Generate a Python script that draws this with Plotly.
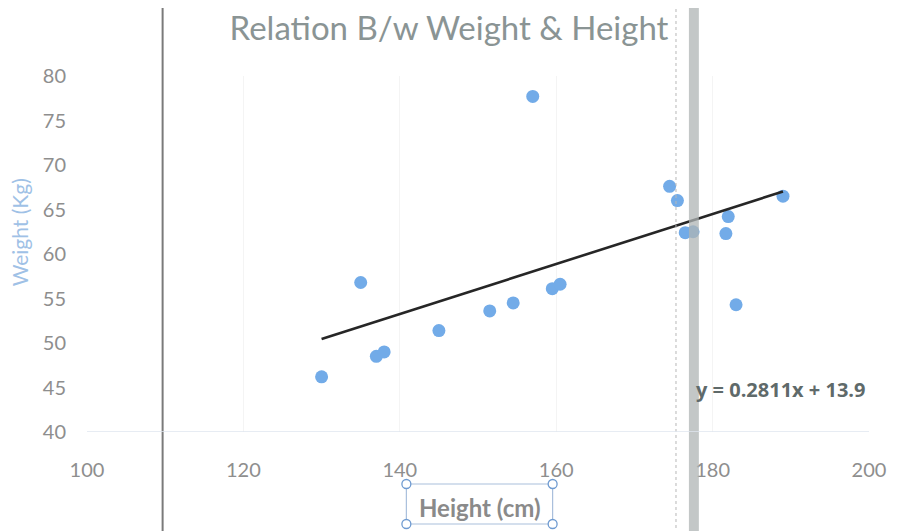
import plotly.graph_objects as go

# ---- data ----
height_cm = [130, 135, 137, 138, 145, 151.5, 154.5, 159.5, 160.5, 157,
             174.5, 175.5, 176.5, 177.5, 182, 181.7, 183, 189]
weight_kg = [46.2, 56.8, 48.5, 49.0, 51.4, 53.6, 54.5, 56.1, 56.6, 77.7,
             67.6, 66.0, 62.4, 62.5, 64.2, 62.3, 54.3, 66.5]
trend_slope = 0.2811
trend_intercept = 13.9
x_ticks = [100, 120, 140, 160, 180, 200]
y_ticks = [40, 45, 50, 55, 60, 65, 70, 75, 80]
title_text = "Relation B/w Weight & Height"
x_title = "Height (cm)"
y_title = "Weight (Kg)"
eq_text = "y = 0.2811x + 13.9"

trend_x = [min(height_cm), max(height_cm)]
trend_y = [trend_slope * v + trend_intercept for v in trend_x]

fig = go.Figure()
fig.add_trace(go.Scatter(
    x=height_cm, y=weight_kg, mode="markers",
    marker=dict(size=13, color="#72abe8"),
    showlegend=False, hoverinfo="x+y"))
fig.add_trace(go.Scatter(
    x=trend_x, y=trend_y, mode="lines",
    line=dict(color="#262626", width=2.6),
    showlegend=False))

OFF = 8                      # page body margin
W, H = 898 - OFF, 531 - OFF
PL, PR, PT, PB = 87, 873, 76, 432      # plot area in window pixels
L, T = PL - OFF, PT - OFF
R = W - (PR - OFF)
B = H - (PB - OFF)
pw, ph = PR - PL, PB - PT

def px(xp):
    return (xp - PL) / pw

def py(yp):
    return (PB - yp) / ph

shapes = []
# scan artefacts: left border line, dotted line, grey band
shapes.append(dict(type="line", xref="paper", yref="paper",
                   x0=px(163), x1=px(163), y0=py(540), y1=py(0),
                   line=dict(color="#7a7a7a", width=2)))
shapes.append(dict(type="line", xref="paper", yref="paper",
                   x0=px(679), x1=px(679), y0=py(540), y1=py(0),
                   line=dict(color="#b8b8b8", width=1, dash="dot")))
shapes.append(dict(type="rect", xref="paper", yref="paper",
                   x0=px(692), x1=px(702), y0=py(540), y1=py(0),
                   line=dict(width=0), fillcolor="rgba(175,180,180,0.75)",
                   layer="above"))
# x-title selection box with handles
bx0, bx1, by0, by1 = 408, 555, 484, 524
shapes.append(dict(type="rect", xref="paper", yref="paper",
                   x0=px(bx0), x1=px(bx1), y0=py(by1), y1=py(by0),
                   line=dict(color="#a9bfdc", width=1.2)))
for cx in (bx0, bx1):
    for cy in (by0, by1):
        shapes.append(dict(type="circle", xref="paper", yref="paper",
                           x0=px(cx - 4.5), x1=px(cx + 4.5),
                           y0=py(cy + 4.5), y1=py(cy - 4.5),
                           line=dict(color="#6f9bd1", width=1.3),
                           fillcolor="white"))

annotations = [
    dict(text=x_title, xref="paper", yref="paper",
         x=px(482), y=py(507), xanchor="center", yanchor="middle",
         showarrow=False,
         font=dict(family="Lato", size=24, color="#8a8a8a", weight="bold")),
    dict(text=eq_text, xref="paper", yref="paper",
         x=px(697), y=py(389), xanchor="left", yanchor="middle",
         showarrow=False,
         font=dict(family="Open Sans", size=20, color="#5f6a6a", weight="bold")),
    dict(text=y_title, xref="paper", yref="paper",
         x=px(19), y=py(232), xanchor="center", yanchor="middle",
         textangle=-90, showarrow=False,
         font=dict(family="Lato", size=21, color="#9fc1e6")),
]

fig.update_layout(
    width=W, height=H,
    margin=dict(l=L, r=R, t=T, b=B),
    paper_bgcolor="white", plot_bgcolor="white",
    title=dict(text=title_text, x=(449 - OFF) / W, xref="container",
               xanchor="center",
               y=1 - (28 - OFF) / H, yanchor="middle",
               font=dict(family="Lato", size=33, color="#8a9494")),
    xaxis=dict(range=[100, 200], tickvals=x_ticks, showgrid=True,
               gridcolor="#f4f4f4", zeroline=False, showline=False,
               ticks="", ticklabelstandoff=24,
               tickfont=dict(family="Lato", size=20, color="#8e8e8e")),
    yaxis=dict(range=[40, 80], tickvals=y_ticks, showgrid=False,
               zeroline=False, showline=False, ticks="",
               ticklabelstandoff=20,
               tickfont=dict(family="Lato", size=20, color="#8e8e8e")),
    shapes=shapes, annotations=annotations,
)
fig.add_hline(y=40, line=dict(color="#dfe6ef", width=1.5))

fig.write_html("out.html")
